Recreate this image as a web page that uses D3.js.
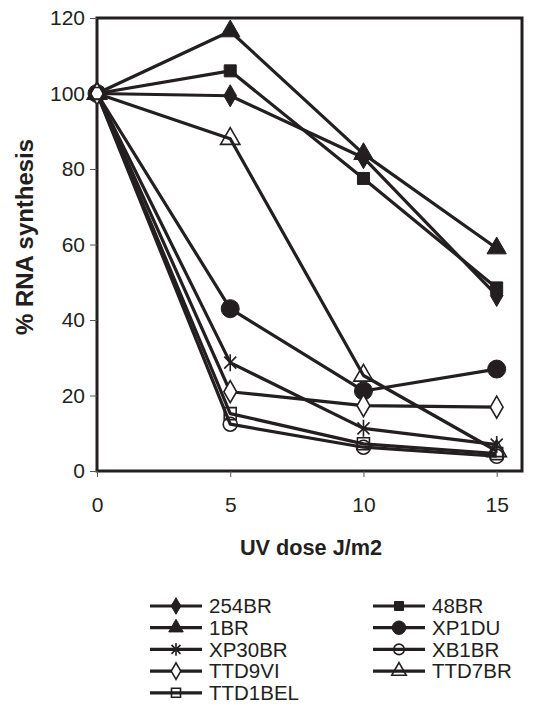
<!DOCTYPE html>
<html lang="en">
<head>
  <meta charset="UTF-8">
  <title>RNA synthesis after UV</title>
  <script src="https://d3js.org/d3.v7.min.js"></script>
  <style>
    body { margin: 0; background: #fff; }
    text { font-family: Arial, "Liberation Sans", sans-serif; fill: #231f20; }
  </style>
</head>
<body>
<svg width="552" height="711"></svg>
<script>
  // UV dose (J/m2)
  var doses = [0, 5, 10, 15];
  var yTicks = [0, 20, 40, 60, 80, 100, 120];

  // % RNA synthesis per cell line
  var s254BR = [100, 99.4, 83, 46.5];
  var s48BR = [100, 106, 77.5, 48.5];
  var s1BR = [100, 116.5, 84, 59];
  var sXP1DU = [100, 43, 21.2, 27];
  var sXP30BR = [100, 28.7, 11.3, 7];
  var sXB1BR = [100, 12.4, 6.3, 3.9];
  var sTTD9VI = [100, 21, 17.3, 16.9];
  var sTTD7BR = [100, 88, 25.3, 5.3];
  var sTTD1BEL = [100, 15.2, 7.2, 4.6];

  var series = [
    {name: '254BR', values: s254BR, marker: 'diamond', fill: true},
    {name: '48BR', values: s48BR, marker: 'square', fill: true},
    {name: '1BR', values: s1BR, marker: 'triangle', fill: true},
    {name: 'XP1DU', values: sXP1DU, marker: 'circle', fill: true},
    {name: 'XP30BR', values: sXP30BR, marker: 'star', fill: false},
    {name: 'XB1BR', values: sXB1BR, marker: 'circle', fill: false},
    {name: 'TTD9VI', values: sTTD9VI, marker: 'diamond', fill: 'white'},
    {name: 'TTD7BR', values: sTTD7BR, marker: 'triangle', fill: false},
    {name: 'TTD1BEL', values: sTTD1BEL, marker: 'square', fill: false}
  ];

  var ink = '#231f20';
  var svg = d3.select('svg');

  var x = d3.scaleLinear().domain([0, 15.95]).range([97, 522]);
  var y = d3.scaleLinear().domain([0, 120]).range([471, 18]);

  // plot frame
  svg.append('rect')
    .attr('x', x(0)).attr('y', y(120))
    .attr('width', x(15.95) - x(0)).attr('height', y(0) - y(120))
    .attr('fill', 'none').attr('stroke', ink).attr('stroke-width', 3);

  var yAxis = svg.append('g')
    .attr('transform', 'translate(' + x(0) + ',0)')
    .call(d3.axisLeft(y).tickValues(yTicks).tickSize(7).tickPadding(5));
  var xAxis = svg.append('g')
    .attr('transform', 'translate(0,' + y(0) + ')')
    .call(d3.axisBottom(x).tickValues(doses).tickSize(6).tickPadding(20));
  [xAxis, yAxis].forEach(function (a) {
    a.select('.domain').remove();
    a.selectAll('.tick line').attr('stroke', '#555').attr('stroke-width', 1);
    a.selectAll('.tick text').style('font-size', '21px').attr('fill', ink);
  });

  svg.append('text')
    .attr('transform', 'translate(33,237) rotate(-90)')
    .attr('text-anchor', 'middle')
    .attr('textLength', 196).attr('lengthAdjust', 'spacingAndGlyphs')
    .style('font-size', '23.5px').style('font-weight', 'bold')
    .text('% RNA synthesis');
  svg.append('text')
    .attr('x', 311).attr('y', 555)
    .attr('text-anchor', 'middle')
    .style('font-size', '21.7px').style('font-weight', 'bold')
    .text('UV dose J/m2');

  function markerPath(type, size) {
    if (type === 'star') {
      var r = size / 2;
      var d = r * Math.cos(Math.PI / 4);
      return 'M0,' + (-r) + 'V' + r +
        'M' + (-d) + ',' + (-d) + 'L' + d + ',' + d +
        'M' + (-d) + ',' + d + 'L' + d + ',' + (-d);
    }
    var sym = {diamond: d3.symbolDiamond, square: d3.symbolSquare,
      triangle: d3.symbolTriangle, circle: d3.symbolCircle}[type];
    var area = {diamond: size * size * 0.55, square: size * size,
      triangle: size * size * 0.45, circle: Math.PI * size * size / 4}[type];
    return d3.symbol(sym, area)();
  }

  function drawMarker(g, s, cx, cy, scale) {
    var base = {diamond: 16, square: 12, triangle: 19, circle: s.fill === true ? 18 : 14, star: 17}[s.marker];
    var p = g.append('path')
      .attr('transform', 'translate(' + cx + ',' + cy + ')')
      .attr('d', markerPath(s.marker, base * scale));
    if (s.fill === true) {
      p.attr('fill', ink).attr('stroke', ink).attr('stroke-width', 1);
    } else {
      p.attr('fill', s.fill === 'white' ? '#fff' : 'none')
        .attr('stroke', ink).attr('stroke-width', 1.6);
    }
  }

  var line = d3.line()
    .x(function (d, i) { return x(doses[i]); })
    .y(function (d) { return y(d); });

  var plot = svg.append('g');
  series.forEach(function (s) {
    plot.append('path')
      .datum(s.values)
      .attr('fill', 'none')
      .attr('stroke', ink)
      .attr('stroke-width', 3.2)
      .attr('stroke-linejoin', 'round')
      .attr('d', line);
  });
  series.forEach(function (s) {
    s.values.forEach(function (v, i) {
      drawMarker(plot, s, x(doses[i]), y(v), 1);
    });
  });

  // legend, two columns
  var legend = svg.append('g');
  series.forEach(function (s, i) {
    var col = i % 2, row = Math.floor(i / 2);
    var lx = col === 0 ? 150 : 373;
    var ly = 606 + row * 21.7;
    legend.append('line')
      .attr('x1', lx).attr('x2', lx + 52)
      .attr('y1', ly).attr('y2', ly)
      .attr('stroke', ink).attr('stroke-width', 3.2);
    drawMarker(legend, s, lx + 26, ly, 0.75);
    legend.append('text')
      .attr('x', lx + 59).attr('y', ly)
      .attr('dy', '0.36em')
      .style('font-size', '20.5px')
      .text(s.name);
  });
</script>
</body>
</html>
